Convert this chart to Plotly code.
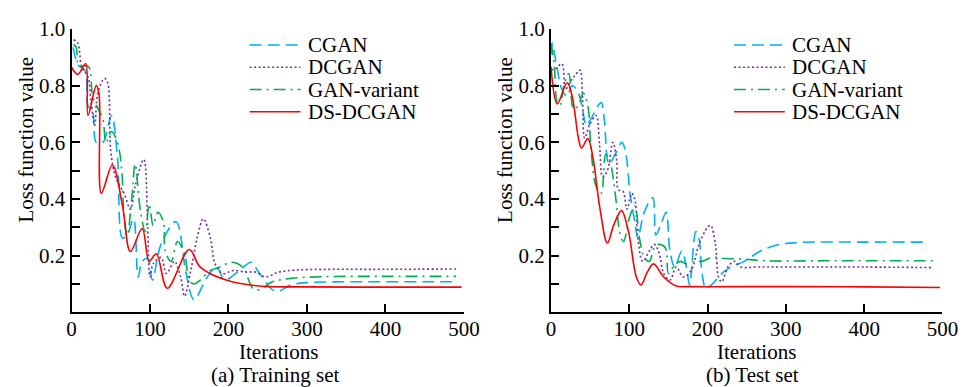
import plotly.graph_objects as go

W, H = 977, 387
FONT = "Liberation Serif, Times New Roman, Times, serif"

series_names = ["CGAN", "DCGAN", "GAN-variant", "DS-DCGAN"]
colors = ["#00B0F0", "#7030A0", "#00B050", "#FF0000"]
dashes = ["12px,6px", "2px,2.5px", "12px,5px,2px,5px", "solid"]

# ---- Training set ----
train_cgan_x = [2, 9, 17, 21, 27, 31.5, 40, 51, 58.5, 65, 71, 79, 85, 90, 97, 103, 114, 133, 146, 156, 173, 185, 195, 214, 229, 237, 260, 280, 300, 350, 400, 450, 492]
train_cgan_y = [0.935, 0.87, 0.855, 0.73, 0.706, 0.60, 0.60, 0.695, 0.547, 0.262, 0.273, 0.33, 0.125, 0.18, 0.19, 0.114, 0.24, 0.32, 0.137, 0.045, 0.125, 0.16, 0.114, 0.148, 0.177, 0.148, 0.074, 0.097, 0.105, 0.108, 0.108, 0.108, 0.108]

train_dcgan_x = [2.5, 8, 13, 21, 25, 29.5, 33.6, 42, 46, 50, 56, 67, 75, 81, 92, 97, 100, 104, 114, 121, 131, 139, 144, 152, 160, 168, 177, 183, 193, 206, 222, 235, 247, 264, 280, 300, 400, 490]
train_dcgan_y = [0.962, 0.95, 0.865, 0.83, 0.74, 0.66, 0.775, 0.826, 0.81, 0.57, 0.478, 0.42, 0.364, 0.444, 0.54, 0.30, 0.125, 0.171, 0.194, 0.137, 0.18, 0.125, 0.057, 0.148, 0.262, 0.33, 0.262, 0.17, 0.137, 0.148, 0.142, 0.142, 0.125, 0.142, 0.148, 0.151, 0.152, 0.153]

train_gan_x = [2.5, 6, 9, 16, 22, 27, 34, 40, 44, 51, 58.5, 64, 67, 71, 77, 81, 88, 94, 99, 104, 110, 117, 119.5, 127, 135, 144, 150, 156, 164, 177, 189, 204, 218, 231, 239, 256, 280, 320, 400, 490]
train_gan_y = [0.945, 0.935, 0.87, 0.87, 0.866, 0.763, 0.717, 0.683, 0.60, 0.638, 0.60, 0.50, 0.33, 0.273, 0.41, 0.524, 0.353, 0.285, 0.382, 0.307, 0.353, 0.32, 0.216, 0.18, 0.25, 0.205, 0.114, 0.10, 0.114, 0.148, 0.16, 0.177, 0.16, 0.085, 0.08, 0.108, 0.12, 0.126, 0.127, 0.127]

train_ds_x = [0, 8, 18, 21, 31.5, 35, 38, 52, 65, 75, 90, 99, 108, 122, 150, 164, 197, 239, 300, 400, 497]
train_ds_y = [0.865, 0.84, 0.877, 0.695, 0.80, 0.77, 0.42, 0.52, 0.375, 0.215, 0.296, 0.18, 0.207, 0.085, 0.222, 0.16, 0.114, 0.093, 0.09, 0.089, 0.089]

# ---- Test set ----
test_cgan_x = [0, 2, 4, 8, 14, 20.5, 27, 35, 41, 45, 51, 64, 68, 74, 82, 90.5, 95, 101, 107, 111, 119, 130, 134, 140, 147, 152, 158, 167, 173, 177, 185, 189, 193, 198, 206, 218, 230, 247, 267, 292, 320, 400, 480]
test_cgan_y = [0.91, 0.95, 0.92, 0.86, 0.786, 0.763, 0.80, 0.774, 0.706, 0.66, 0.683, 0.74, 0.683, 0.524, 0.558, 0.60, 0.57, 0.42, 0.32, 0.262, 0.353, 0.404, 0.273, 0.307, 0.353, 0.216, 0.16, 0.216, 0.16, 0.097, 0.285, 0.262, 0.137, 0.085, 0.10, 0.137, 0.16, 0.18, 0.216, 0.24, 0.247, 0.248, 0.248]

test_dcgan_x = [0, 6, 14, 18.5, 24.7, 31, 37, 40, 43, 49, 57.6, 62, 66, 72, 79, 84, 86, 92, 97, 103, 107, 111, 117, 125.5, 132, 138, 144, 152, 160, 169, 179, 189, 200, 204, 210, 214, 218, 226, 234.6, 243, 263, 292, 400, 487]
test_dcgan_y = [0.855, 0.86, 0.877, 0.786, 0.814, 0.837, 0.855, 0.774, 0.615, 0.66, 0.695, 0.592, 0.478, 0.50, 0.60, 0.535, 0.433, 0.427, 0.364, 0.42, 0.40, 0.262, 0.18, 0.216, 0.24, 0.21, 0.137, 0.114, 0.16, 0.125, 0.148, 0.24, 0.30, 0.307, 0.24, 0.125, 0.108, 0.16, 0.18, 0.16, 0.16, 0.16, 0.16, 0.158]

test_gan_x = [0, 4, 8, 11.5, 16.5, 22.6, 29, 35, 41, 47, 51, 57.6, 64, 70, 76, 82, 88.5, 92.6, 101, 107, 113, 119, 125.5, 132, 138, 146, 150, 156, 165, 173, 181, 193, 206, 222, 247, 272, 350, 490]
test_gan_y = [0.95, 0.877, 0.74, 0.73, 0.80, 0.843, 0.717, 0.73, 0.774, 0.73, 0.58, 0.444, 0.42, 0.558, 0.524, 0.42, 0.273, 0.25, 0.342, 0.376, 0.262, 0.194, 0.18, 0.228, 0.24, 0.228, 0.137, 0.16, 0.18, 0.171, 0.18, 0.18, 0.194, 0.19, 0.188, 0.182, 0.182, 0.182]

test_ds_x = [0, 8, 20.5, 27, 35, 39, 47, 53.5, 62, 72, 80, 90, 99, 109, 115, 123, 131, 144, 160, 177, 300, 400, 497]
test_ds_y = [0.866, 0.735, 0.81, 0.763, 0.615, 0.58, 0.613, 0.547, 0.376, 0.245, 0.307, 0.359, 0.285, 0.125, 0.097, 0.142, 0.171, 0.125, 0.093, 0.091, 0.091, 0.09, 0.088]

x_ticks = [0, 100, 200, 300, 400, 500]
y_ticks = [0, 0.1, 0.2, 0.3, 0.4, 0.5, 0.6, 0.7, 0.8, 1.0]
y_ticktext = ["", "", "0.2", "", "0.4", "", "0.6", "", "0.8", "1.0"]
panel_captions = ["(a) Training set", "(b) Test set"]
x_title = "Iterations"
y_title = "Loss function value"

train = [(train_cgan_x, train_cgan_y), (train_dcgan_x, train_dcgan_y),
         (train_gan_x, train_gan_y), (train_ds_x, train_ds_y)]
test = [(test_cgan_x, test_cgan_y), (test_dcgan_x, test_dcgan_y),
        (test_gan_x, test_gan_y), (test_ds_x, test_ds_y)]

fig = go.Figure()
for panel, (data, xa, ya) in enumerate([(train, "x", "y"), (test, "x2", "y2")]):
    for i, (xs, ys) in enumerate(data):
        fig.add_trace(go.Scatter(
            x=xs, y=ys, mode="lines", name=series_names[i], showlegend=False,
            xaxis=xa, yaxis=ya,
            line=dict(color=colors[i], width=1.6, dash=dashes[i],
                      shape="spline", smoothing=1.0)))

def px(x):
    return x / W

def py(y):
    return 1 - y / H

ydom = [py(310), py(17.5)]
axis_common = dict(showline=True, linecolor="black", linewidth=2, ticks="inside",
                   ticklen=8, tickwidth=2, tickcolor="black", showgrid=False,
                   zeroline=False, mirror=False,
                   tickfont=dict(family=FONT, size=21, color="black"))

fig.update_layout(
    width=W, height=H, margin=dict(l=0, r=0, t=0, b=0),
    paper_bgcolor="white", plot_bgcolor="white", showlegend=False,
    font=dict(family=FONT, size=21, color="black"),
    xaxis=dict(domain=[px(68), px(469)], range=[0, 500], tickvals=x_ticks,
               anchor="y", ticklabelstandoff=-4, **axis_common),
    yaxis=dict(domain=ydom, range=[0, 1.0], tickvals=y_ticks, ticktext=y_ticktext,
               anchor="x", ticklabelstandoff=0, **axis_common),
    xaxis2=dict(domain=[px(558), px(958)], range=[0, 500], tickvals=x_ticks,
                anchor="y2", ticklabelstandoff=-4, **axis_common),
    yaxis2=dict(domain=ydom, range=[0, 1.0], tickvals=y_ticks, ticktext=y_ticktext,
                anchor="x2", ticklabelstandoff=0, **axis_common),
)

annotations = []
shapes = []
for k, (cx, ytx, lx0, lx1, tx) in enumerate([(280, 21, 250, 302, 308), (768, 511, 745, 797, 802)]):
    annotations.append(dict(x=px(cx), y=py(351), xref="paper", yref="paper", text=x_title,
                            showarrow=False, xanchor="center", yanchor="middle",
                            font=dict(family=FONT, size=21)))
    annotations.append(dict(x=px(cx - 4), y=py(375), xref="paper", yref="paper",
                            text=panel_captions[k], showarrow=False, xanchor="center",
                            yanchor="middle", font=dict(family=FONT, size=21)))
    annotations.append(dict(x=px(ytx), y=py(132), xref="paper", yref="paper", text=y_title,
                            showarrow=False, textangle=-90, xanchor="center",
                            yanchor="middle", font=dict(family=FONT, size=21)))
    for i, rowy in enumerate([34, 57, 80, 103]):
        shapes.append(dict(type="line", xref="paper", yref="paper",
                           x0=px(lx0), x1=px(lx1), y0=py(rowy), y1=py(rowy),
                           line=dict(color=colors[i], width=1.6, dash=dashes[i])))
        annotations.append(dict(x=px(tx), y=py(rowy), xref="paper", yref="paper",
                                text=series_names[i], showarrow=False, xanchor="left",
                                yanchor="middle", font=dict(family=FONT, size=21)))

fig.update_layout(annotations=annotations, shapes=shapes)
fig.write_html("out.html")
